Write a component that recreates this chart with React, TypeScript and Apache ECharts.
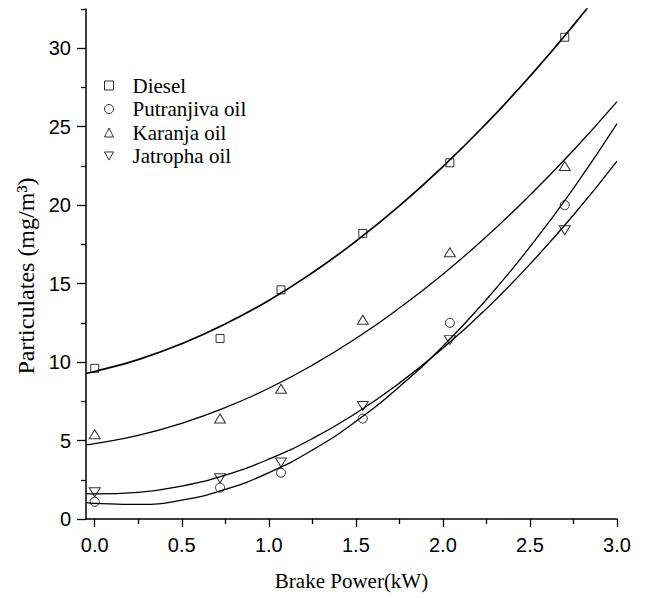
import React, { useEffect, useRef } from "react";
import * as echarts from "echarts";

// Measured points
const pointX = [0, 0.72, 1.07, 1.54, 2.04, 2.7];
const diesel = [9.6, 11.5, 14.6, 18.2, 22.7, 30.7];
const putranjiva = [1.1, 2.0, 2.95, 6.4, 12.5, 20.0];
const karanja = [5.4, 6.4, 8.3, 12.7, 17.0, 22.5];
const jatropha = [1.7, 2.6, 3.6, 7.2, 11.4, 18.4];

// Fitted curves
const fitX = [-0.05, 0, 0.25, 0.5, 0.75, 1.0, 1.25, 1.5, 1.75, 2.0, 2.25, 2.5, 2.75, 3.0];
const dieselFit = [9.28, 9.4, 10.16, 11.17, 12.43, 13.93, 15.69, 17.7, 19.95, 22.46, 25.21, 28.21, 31.47, 34.97];
const putranjivaFit = [1.04, 1.0, 0.93, 1.2, 1.89, 2.95, 4.39, 6.22, 8.43, 11.01, 13.99, 17.34, 21.07, 25.19];
const karanjaFit = [4.72, 4.8, 5.33, 6.1, 7.1, 8.33, 9.8, 11.5, 13.44, 15.6, 18.0, 20.64, 23.5, 26.6];
const jatrophaFit = [1.62, 1.6, 1.7, 2.1, 2.8, 3.81, 5.12, 6.74, 8.66, 10.88, 13.4, 16.24, 19.37, 22.81];

const seriesNames = ["Diesel", "Putranjiva oil", "Karanja oil", "Jatropha oil"];

const xTicks = [0, 0.5, 1.0, 1.5, 2.0, 2.5, 3.0];
const xMinorTicks = [0.25, 0.75, 1.25, 1.75, 2.25, 2.75];
const yTicks = [0, 5, 10, 15, 20, 25, 30];
const yMinorTicks = [2.5, 7.5, 12.5, 17.5, 22.5, 27.5, 32.5];

const X_MIN = -0.05;
const X_MAX = 3.0;
const Y_MIN = 0;
const Y_MAX = 32.5;

const zip = (xs: number[], ys: number[]) => xs.map((x, i) => [x, ys[i]]);

const tickFont = "'Liberation Sans Narrow', 'Liberation Sans', Arial, sans-serif";
const serifFont = "'Liberation Serif', 'Times New Roman', serif";

export default function App() {
  const ref = useRef<HTMLDivElement>(null);

  useEffect(() => {
    document.body.style.margin = "0";
    if (!ref.current) return;
    const chart = echarts.init(ref.current, undefined, { renderer: "svg" });

    const pointSets = [diesel, putranjiva, karanja, jatropha];
    const fitSets = [dieselFit, putranjivaFit, karanjaFit, jatrophaFit];
    const symbols = ["rect", "circle", "triangle", "path://M0,0L10,0L5,9Z"];
    const sizes: any[] = [8, 9, [11, 9], [11, 9]];

    const hollow = { color: "rgba(0,0,0,0)", borderColor: "#000", borderWidth: 1 };

    const series: any[] = [];
    fitSets.forEach((f, i) => {
      series.push({
        type: "line",
        name: seriesNames[i] + " fit",
        data: zip(fitX, f),
        smooth: true,
        showSymbol: false,
        symbol: "none",
        clip: true,
        lineStyle: { color: "#000", width: i === 0 ? 1.7 : 1.3 },
        silent: true,
        z: 2,
      });
    });
    pointSets.forEach((p, i) => {
      series.push({
        type: "scatter",
        name: seriesNames[i],
        data: zip(pointX, p),
        symbol: symbols[i],
        symbolSize: sizes[i],
        itemStyle: hollow,
        z: 3,
      });
    });

    const baseAxisLine = { show: true, lineStyle: { color: "#000", width: 1.5 } };

    chart.setOption({
      animation: false,
      backgroundColor: "#fff",
      grid: { left: 86, right: 28, top: 9, bottom: 80, containLabel: false },
      legend: {
        orient: "vertical",
        left: 99,
        top: 70,
        itemWidth: 9,
        itemHeight: 9,
        itemGap: 2.5,
        data: seriesNames.map((n, i) => ({ name: n, icon: symbols[i] })),
        itemStyle: hollow,
        textStyle: {
          fontFamily: serifFont,
          fontSize: 21,
          color: "#000",
          lineHeight: 21,
          padding: [0, 0, 0, 14],
        },
      },
      xAxis: [
        {
          type: "value",
          min: X_MIN,
          max: X_MAX,
          name: "Brake Power(kW)",
          nameLocation: "middle",
          nameGap: 51,
          nameTextStyle: { fontFamily: serifFont, fontSize: 21, color: "#000" },
          axisLine: { ...baseAxisLine, onZero: false },
          axisTick: { show: true, length: 8, customValues: xTicks, lineStyle: { color: "#000", width: 1.3 } },
          axisLabel: {
            customValues: xTicks,
            margin: 16,
            fontFamily: tickFont,
            fontSize: 20,
            color: "#000",
            formatter: (v: number) => v.toFixed(1),
          },
          splitLine: { show: false },
        },
        {
          type: "value",
          min: X_MIN,
          max: X_MAX,
          position: "bottom",
          axisLine: { show: false, onZero: false },
          axisTick: { show: true, length: 5, customValues: xMinorTicks, lineStyle: { color: "#000", width: 1.3 } },
          axisLabel: { show: false },
          splitLine: { show: false },
        },
      ],
      yAxis: [
        {
          type: "value",
          min: Y_MIN,
          max: Y_MAX,
          name: "Particulates (mg/m³)",
          nameLocation: "middle",
          nameGap: 47,
          nameTextStyle: { fontFamily: serifFont, fontSize: 24, color: "#000", padding: [0, 24, 0, 0] },
          axisLine: { ...baseAxisLine, onZero: false },
          axisTick: { show: true, length: 9, customValues: yTicks, lineStyle: { color: "#000", width: 1.3 } },
          axisLabel: {
            customValues: yTicks,
            margin: 15,
            fontFamily: tickFont,
            fontSize: 20,
            color: "#000",
          },
          splitLine: { show: false },
        },
        {
          type: "value",
          min: Y_MIN,
          max: Y_MAX,
          position: "left",
          axisLine: { show: false, onZero: false },
          axisTick: { show: true, length: 5, customValues: yMinorTicks, lineStyle: { color: "#000", width: 1.3 } },
          axisLabel: { show: false },
          splitLine: { show: false },
        },
      ],
      series,
    });

    return () => chart.dispose();
  }, []);

  return <div ref={ref} style={{ width: 645, height: 599 }} />;
}
